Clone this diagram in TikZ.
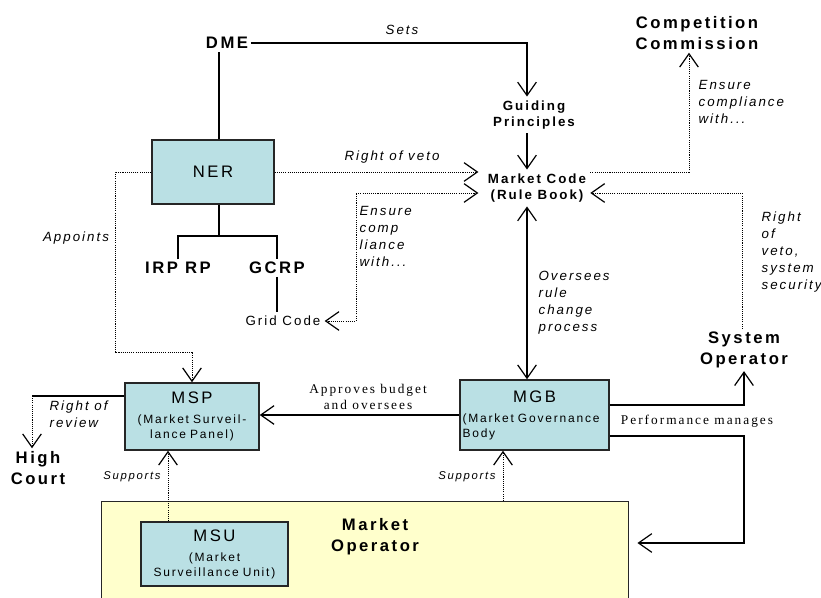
\documentclass[tikz,border=0pt]{standalone}
\usepackage{fontspec}
\setmainfont{Liberation Sans}[LetterSpace=15]
\newfontfamily\timesfont{Liberation Serif}[LetterSpace=15]
\usetikzlibrary{arrows.meta}
\definecolor{boxblue}{RGB}{186,224,228}
\definecolor{moyellow}{RGB}{255,255,204}
\tikzstyle{orgbox}=[rectangle, draw=black!85, line width=1.1pt, fill=boxblue, inner sep=0pt, align=center, font=\fontsize{9}{11.25}\selectfont]
\tikzstyle{heading}=[font=\bfseries\fontsize{12.5}{16}\selectfont, align=center, inner sep=2pt]
\tikzstyle{subhead}=[font=\bfseries\fontsize{10}{12}\selectfont, align=center, inner sep=3pt]
\tikzstyle{note}=[font=\itshape\fontsize{10}{12.75}\selectfont, align=left, inner sep=1pt]
\tikzstyle{small}=[font=\itshape\fontsize{8.5}{10}\selectfont, inner sep=1pt]
\tikzstyle{serifnote}=[font=\timesfont\fontsize{10}{12}\selectfont, align=center, inner sep=1pt]
\tikzstyle{link}=[line width=1pt]
\tikzstyle{dotlink}=[line width=0.7pt, dash pattern=on 0.8pt off 0.8pt]

\begin{document}
\begin{tikzpicture}[x=0.75pt, y=-0.75pt, >={Straight Barb[length=10pt,width=14pt,line width=0.9pt]}]
	\useasboundingbox (0,0) rectangle (821,598);
	\clip (0,0) rectangle (821,598);

	% boxes
	\node[orgbox, fill=moyellow, anchor=north west, minimum width=527*0.75pt, minimum height=130*0.75pt](mo) at (101,501){};
	\node[heading](molab) at (375,537){Market\\Operator};
	\node[orgbox, minimum width=122*0.75pt, minimum height=64*0.75pt, font=\fontsize{12.5}{15}\selectfont](ner) at (213,172){NER};
	\node[orgbox, minimum width=134*0.75pt, minimum height=67*0.75pt, text width=130*0.75pt](msp) at (192,416.5)
		{{\fontsize{12.5}{15}\selectfont MSP}\\[3.75pt](Market Surveil-\\lance Panel)};
	\node[orgbox, minimum width=149*0.75pt, minimum height=70*0.75pt, text width=144*0.75pt, align=left](mgb) at (534.5,415)
		{\makebox[\linewidth]{\fontsize{12.5}{15}\selectfont MGB}\\[3.75pt](Market Governance\\Body};
	\node[orgbox, minimum width=147*0.75pt, minimum height=64*0.75pt, text width=140*0.75pt](msu) at (214.5,554)
		{{\fontsize{12.5}{15}\selectfont MSU}\\[3.75pt](Market\\Surveillance Unit)};

	% bodies without boxes
	\node[heading](dme) at (227,43){DME};
	\node[heading](cc) at (697,33){Competition\\Commission};
	\node[heading](so) at (744,350){System\\Operator};
	\node[heading](hc) at (38,468){High\\Court};
	\node[heading](irp) at (178,268){IRP RP};
	\node[heading](gcrp) at (277,268){GCRP};
	\node[subhead](gp) at (534,115){Guiding\\Principles};
	\node[subhead](mc) at (537,188){Market Code\\(Rule Book)};
	\node[font=\fontsize{10}{12}\selectfont, inner sep=3pt](grid) at (283,321){Grid Code};

	\coordinate (spine) at (527,0);
	\coordinate (fork) at (219,236);
	\coordinate (gcbend) at (356,193);
	\coordinate (ccbend) at (689,172);
	\coordinate (sobend) at (742,193);
	\coordinate (apbend) at (115,352);
	\coordinate (hcbend) at (32,396);
	\coordinate (supl) at (168,0);
	\coordinate (supr) at (503,0);
	\coordinate (mobend) at (744,543);

	% solid links
	\draw[link,->] (dme.east) -| (spine |- gp.north);
	\draw[link,->] (spine |- gp.south) -- (spine |- mc.north);
	\draw[link,<->] (spine |- mc.south) -- (spine |- mgb.north);
	\draw[link] ([xshift=4.5pt]ner.north) -- ([xshift=4.5pt]ner.north |- dme.south);
	\draw[link] ([xshift=4.5pt]ner.south) -- (fork);
	\draw[link] (irp.north) |- (fork) -| (gcrp.north);
	\draw[link] (gcrp.south) -- (gcrp.south |- grid.north);
	\draw[link,->] (mgb.west) -- (mgb.west -| msp.east);
	\draw[link] (msp.west |- hcbend) -- (hcbend);
	\draw[link,->] ([yshift=7.5pt]mgb.east) -| (so.south);
	\draw[link,->,shorten >=6pt] ([yshift=-15.75pt]mgb.east) -| (mobend) -- (mobend -| mo.east);

	% dotted links
	\draw[dotlink,->,shorten >=4pt] (ner.east) -- (ner.east -| mc.west);
	\draw[dotlink,<->] (grid.east) -| (gcbend) -- ([xshift=-4pt]gcbend -| mc.west);
	\draw[dotlink,->] (mc.east |- ccbend) -- (ccbend) -- (ccbend |- cc.south);
	\draw[dotlink,->] (sobend |- so.north) -- (sobend) -- (sobend -| mc.east);
	\draw[dotlink,->] (ner.west) -| (apbend) -| (msp.north);
	\draw[dotlink,->] (hcbend) -- (hcbend |- hc.north);
	\draw[dotlink,->] (supl |- msu.north) -- (supl |- msp.south);
	\draw[dotlink,->] (supr |- mo.north) -- (supr |- mgb.south);

	% labels
	\node[note](sets) at (402,30){Sets};
	\node[note](veto) at (392,157){Right of veto};
	\node[note, anchor=west](gcnote) at (358,236){Ensure\\comp\\liance\\with...};
	\node[note, anchor=west](ccnote) at (697,102){Ensure\\compliance\\with...};
	\node[note, anchor=west](sonote) at (760,252){Right\\of\\veto,\\system\\security};
	\node[note, anchor=west](ovnote) at (537,303){Oversees\\rule\\change\\process};
	\node[note](appoints) at (76,238){Appoints};
	\node[note, anchor=west](review) at (48,414){Right of\\review};
	\node[serifnote](approves) at (368,397){Approves budget\\and oversees};
	\node[serifnote](perf) at (697,421){Performance manages};
	\node[small](sup1) at (132,477){Supports};
	\node[small](sup2) at (467,477){Supports};

\end{tikzpicture}
\end{document}
